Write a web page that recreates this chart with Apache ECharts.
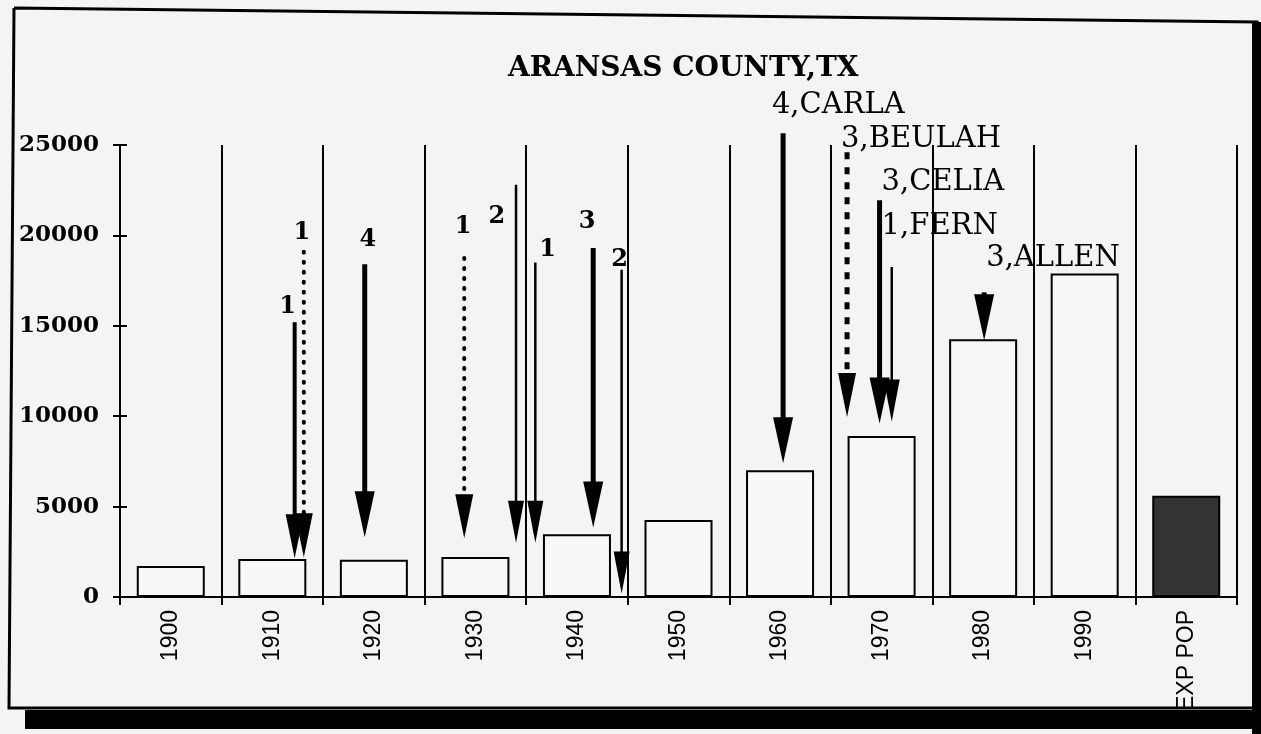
<!DOCTYPE html>
<html><head><meta charset="utf-8">
<script src="https://cdn.jsdelivr.net/npm/echarts@6/dist/echarts.min.js"></script>
<style>html,body{margin:0;padding:0;background:#f4f4f4}#c{width:1261px;height:734px}</style>
</head><body><div id="c"></div>
<script>
// ---- data ----
const categories = ['1900','1910','1920','1930','1940','1950','1960','1970','1980','1990','EXP POP'];
const population = [1716, 2106, 2064, 2219, 3469, 4252, 7006, 8902, 14260, 17892, 5600];
const yMin = 0, yMax = 25000, yStep = 5000;

// hurricane arrows: x in category units (0 = 1900 band centre), values on the population scale
const arrowX     = [1.22, 1.31, 1.91, 2.89, 3.40, 3.59, 4.16, 4.44, 6.03, 6.66, 6.98, 7.10, 8.01];
const arrowFrom  = [15200, 19100, 18400, 18750, 22800, 18500, 19300, 18100, 25650, 24600, 21950, 18250, 16850];
const arrowTo    = [2150, 2200, 3300, 3250, 3000, 3000, 3850, 200, 7400, 9950, 9600, 9700, 14200];
const arrowKind  = ['medium','dotted','thick','dotted','thin','thin','thick','thin','thick','dashed','thick','thin','thick'];

// annotation texts
const noteText = ['1','1','4','1','2','1','3','2','4,CARLA','3,BEULAH','3,CELIA','1,FERN','3,ALLEN'];
const noteX    = [1.15, 1.29, 1.94, 2.88, 3.21, 3.71, 4.10, 4.42, 5.92, 6.60, 7.00, 7.00, 8.03];
const noteY    = [16040, 20130, 19750, 20470, 21020, 19190, 20740, 18640, 27210, 25280, 22950, 20470, 18750];

// ---- styles ----
const ARROW = {
  thick:  {w: 5,   dash: null,   head: 46, hw: 10, cap: 'butt'},
  medium: {w: 4,   dash: null,   head: 44, hw: 9,  cap: 'butt'},
  thin:   {w: 2.5, dash: null,   head: 42, hw: 8,  cap: 'butt'},
  dotted: {w: 4,   dash: [1, 9], head: 44, hw: 9,  cap: 'round'},
  dashed: {w: 5,   dash: [7, 8], head: 44, hw: 9,  cap: 'butt'}
};
const SERIF = "'DejaVu Serif', serif";

const chart = echarts.init(document.getElementById('c'));
chart.setOption({
  backgroundColor: '#f4f4f4',
  animation: false,
  title: {
    text: 'ARANSAS COUNTY,TX',
    left: 503, top: 50,
    textStyle: {fontFamily: SERIF, fontWeight: 'bold', fontSize: 28, color: '#000'}
  },
  grid: {left: 120, right: 24, top: 145, bottom: 137, containLabel: false, outerBoundsMode: 'none'},
  xAxis: [{
    type: 'category', data: categories, boundaryGap: true,
    axisLine: {lineStyle: {color: '#000', width: 2}},
    axisTick: {show: true, length: 8, lineStyle: {color: '#000', width: 2}},
    splitLine: {show: true, lineStyle: {color: '#000', width: 2}},
    axisLabel: {rotate: 90, margin: 13, color: '#000',
      fontFamily: "'Liberation Sans', Arial, sans-serif", fontSize: 23}
  }, {
    type: 'value', min: -0.5, max: categories.length - 0.5, show: false
  }],
  yAxis: [{
    type: 'value', min: yMin, max: yMax, interval: yStep,
    axisLine: {show: true, onZero: false, lineStyle: {color: '#000', width: 2}},
    axisTick: {show: true, length: 7, lineStyle: {color: '#000', width: 2}},
    splitLine: {show: false},
    axisLabel: {margin: 21, color: '#000', fontFamily: SERIF, fontWeight: 'bold', fontSize: 23,
      formatter: v => String(v)}
  }, {
    type: 'value', min: yMin, max: yMax, interval: yStep, position: 'left',
    axisLine: {show: false, onZero: false},
    axisTick: {show: true, inside: true, length: 7, lineStyle: {color: '#000', width: 2}},
    axisLabel: {show: false}, splitLine: {show: false}
  }],
  series: [{
    type: 'bar', xAxisIndex: 0, yAxisIndex: 0, barWidth: 68,
    data: population.map((v, i) => ({
      value: v,
      itemStyle: i === population.length - 1
        ? {color: '#333', borderColor: '#000', borderWidth: 2}
        : {color: '#f8f8f8', borderColor: '#000', borderWidth: 2}
    }))
  }, {
    type: 'custom', xAxisIndex: 1, yAxisIndex: 0, clip: false, z: 5,
    data: arrowX.map((x, i) => [x, arrowFrom[i], arrowTo[i], i]),
    encode: {x: 0, y: [1, 2]},
    renderItem: function (params, api) {
      const i = api.value(3);
      const st = ARROW[arrowKind[i]];
      const p0 = api.coord([api.value(0), api.value(1)]);
      const p1 = api.coord([api.value(0), api.value(2)]);
      const x = p0[0];
      const headTop = p1[1] - st.head;
      const children = [];
      if (headTop > p0[1]) {
        children.push({type: 'line', shape: {x1: x, y1: p0[1], x2: x, y2: headTop + 4},
          style: {stroke: '#000', lineWidth: st.w, lineDash: st.dash, lineCap: st.cap}});
      }
      children.push({type: 'polygon',
        shape: {points: [[x - st.hw, Math.max(headTop, p0[1])], [x + st.hw, Math.max(headTop, p0[1])], [x, p1[1]]]},
        style: {fill: '#000'}});
      return {type: 'group', children: children};
    }
  }, {
    type: 'custom', xAxisIndex: 1, yAxisIndex: 0, clip: false, z: 6,
    data: noteX.map((x, i) => [x, noteY[i], i]),
    encode: {x: 0, y: 1},
    renderItem: function (params, api) {
      const i = api.value(2);
      const p = api.coord([api.value(0), api.value(1)]);
      const isName = noteText[i].length > 1;
      return {type: 'text', x: p[0], y: p[1], style: {
        text: noteText[i], fill: '#000',
        font: (isName ? 'normal 29px ' : 'bold 24px ') + SERIF,
        align: isName ? 'left' : 'center', verticalAlign: 'middle'
      }};
    }
  }],
  graphic: [
    {type: 'polyline', z: 10, shape: {points: [[14, 8], [1257, 22], [1256, 708], [9, 708], [14, 8]]},
      style: {stroke: '#000', lineWidth: 3, fill: null}},
    {type: 'rect', z: 10, shape: {x: 25, y: 710, width: 1236, height: 19}, style: {fill: '#000'}},
    {type: 'rect', z: 10, shape: {x: 1252, y: 22, width: 9, height: 712}, style: {fill: '#000'}}
  ]
});
</script></body></html>
